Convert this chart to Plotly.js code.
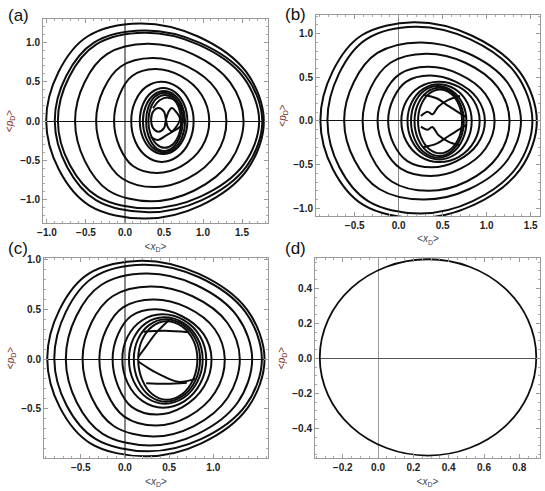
<!DOCTYPE html>
<html>
<head>
<meta charset="utf-8">
<script src="https://cdn.plot.ly/plotly-3.0.1.min.js"></script>
<style>
  html, body { margin: 0; padding: 0; background: #fff; }
  #chart { width: 545px; height: 491px; }
</style>
</head>
<body>
<div id="chart"></div>
<script>
// phase-space orbits <x_D>, <p_D>, four panels
// each orbit: 12 points clockwise from the left turning point, closed, orbits split by null

// (a)
const aX = [
  -1.01,-0.854,-0.482,0.19,0.937,1.557,1.78,1.566,0.969,0.25,-0.456,-0.846,-1.01,null,
  -0.90,-0.752,-0.398,0.24,0.954,1.547,1.76,1.556,0.986,0.30,-0.372,-0.744,-0.90,null,
  -0.86,-0.716,-0.372,0.25,0.941,1.514,1.72,1.521,0.967,0.30,-0.35,-0.709,-0.86,null,
  -0.64,-0.519,-0.231,0.29,0.868,1.348,1.52,1.353,0.889,0.33,-0.213,-0.514,-0.64,null,
  -0.37,-0.276,-0.053,0.35,0.797,1.167,1.30,1.171,0.812,0.38,-0.04,-0.273,-0.37,null,
  -0.14,-0.072,0.091,0.385,0.712,0.983,1.08,0.986,0.725,0.41,0.102,-0.069,-0.14,null,
  0.08,0.131,0.27,0.46,0.67,0.824,0.88,0.825,0.675,0.47,0.275,0.132,0.08,null,
  0.19,0.23,0.34,0.49,0.645,0.758,0.80,0.758,0.645,0.49,0.34,0.23,0.19,null,
  0.23,0.266,0.365,0.50,0.635,0.734,0.77,0.734,0.635,0.50,0.365,0.266,0.23,null,
  0.27,0.301,0.385,0.50,0.62,0.708,0.74,0.708,0.62,0.50,0.385,0.301,0.27,null,
  0.30,0.328,0.405,0.51,0.615,0.692,0.72,0.692,0.615,0.51,0.405,0.328,0.30];
const aY = [
  0,0.62,1.074,1.24,1.074,0.62,0,-0.62,-1.074,-1.24,-1.074,-0.62,0,null,
  0,0.575,0.996,1.15,0.996,0.575,0,-0.58,-1.005,-1.16,-1.005,-0.58,0,null,
  0,0.56,0.97,1.12,0.97,0.56,0,-0.555,-0.961,-1.11,-0.961,-0.555,0,null,
  0,0.49,0.849,0.98,0.849,0.49,0,-0.51,-0.883,-1.02,-0.883,-0.51,0,null,
  0,0.40,0.693,0.80,0.693,0.40,0,-0.42,-0.727,-0.84,-0.727,-0.42,0,null,
  0,0.33,0.572,0.66,0.572,0.33,0,-0.33,-0.572,-0.66,-0.572,-0.33,0,null,
  0,0.25,0.433,0.50,0.433,0.25,0,-0.26,-0.45,-0.52,-0.45,-0.26,0,null,
  0,0.21,0.364,0.42,0.364,0.21,0,-0.21,-0.364,-0.42,-0.364,-0.21,0,null,
  0,0.19,0.329,0.38,0.329,0.19,0,-0.20,-0.346,-0.40,-0.346,-0.20,0,null,
  0,0.18,0.312,0.36,0.312,0.18,0,-0.19,-0.329,-0.38,-0.329,-0.19,0,null,
  0,0.165,0.286,0.33,0.286,0.165,0,-0.17,-0.294,-0.34,-0.294,-0.17,0];
// (a) inner two lobes and crossing arcs
const aLobeX = [0.525,0.50,0.43,0.36,0.335,0.36,0.43,0.50,0.525,0.56,0.60,0.66,0.705,0.66,0.60,0.55,0.525];
const aLobeY = [0.015,0.12,0.165,0.12,0.015,-0.09,-0.135,-0.09,0.015,0.12,0.165,0.11,0.03,-0.07,-0.13,-0.08,0.015];
const aArcX = [0.36,0.449,0.556,0.662,0.748,0.726,0.62,0.534,0.42,0.33];
const aArcY = [0.161,0.267,0.297,0.246,0.118,-0.051,-0.13,-0.178,-0.24,-0.20];

// (b)
const bX = [
  -0.89,-0.752,-0.424,0.17,0.828,1.374,1.57,1.381,0.855,0.22,-0.402,-0.746,-0.89,null,
  -0.81,-0.68,-0.37,0.19,0.815,1.334,1.52,1.341,0.842,0.24,-0.348,-0.674,-0.81,null,
  -0.62,-0.508,-0.242,0.24,0.781,1.229,1.39,1.235,0.804,0.285,-0.222,-0.502,-0.62,null,
  -0.41,-0.316,-0.093,0.31,0.757,1.127,1.26,1.131,0.772,0.34,-0.08,-0.313,-0.41,null,
  -0.24,-0.166,0.011,0.33,0.687,0.984,1.09,0.988,0.703,0.36,0.024,-0.162,-0.24,null,
  -0.12,-0.059,0.087,0.35,0.646,0.892,0.98,0.895,0.659,0.375,0.098,-0.056,-0.12,null,
  0.03,0.086,0.24,0.45,0.685,0.857,0.92,0.858,0.69,0.46,0.245,0.088,0.03,null,
  0.10,0.147,0.275,0.45,0.64,0.779,0.83,0.78,0.645,0.46,0.28,0.148,0.10,null,
  0.14,0.18,0.29,0.44,0.605,0.726,0.77,0.727,0.61,0.45,0.295,0.182,0.14,null,
  0.18,0.218,0.32,0.46,0.60,0.702,0.74,0.702,0.60,0.46,0.32,0.218,0.18,null,
  0.22,0.253,0.345,0.47,0.595,0.687,0.72,0.687,0.595,0.47,0.345,0.253,0.22];
const bY = [
  0,0.565,0.979,1.13,0.979,0.565,0,-0.555,-0.961,-1.11,-0.961,-0.555,0,null,
  0,0.54,0.935,1.08,0.935,0.54,0,-0.53,-0.918,-1.06,-0.918,-0.53,0,null,
  0,0.45,0.779,0.90,0.779,0.45,0,-0.45,-0.779,-0.90,-0.779,-0.45,0,null,
  0,0.385,0.667,0.77,0.667,0.385,0,-0.40,-0.693,-0.80,-0.693,-0.40,0,null,
  0,0.31,0.537,0.62,0.537,0.31,0,-0.315,-0.546,-0.63,-0.546,-0.315,0,null,
  0,0.26,0.45,0.52,0.45,0.26,0,-0.265,-0.459,-0.53,-0.459,-0.265,0,null,
  0,0.225,0.39,0.45,0.39,0.225,0,-0.235,-0.407,-0.47,-0.407,-0.235,0,null,
  0,0.21,0.364,0.42,0.364,0.21,0,-0.22,-0.381,-0.44,-0.381,-0.22,0,null,
  0,0.20,0.346,0.40,0.346,0.20,0,-0.21,-0.364,-0.42,-0.364,-0.21,0,null,
  0,0.19,0.329,0.38,0.329,0.19,0,-0.20,-0.346,-0.40,-0.346,-0.20,0,null,
  0,0.18,0.312,0.36,0.312,0.18,0,-0.185,-0.32,-0.37,-0.32,-0.185,0];
// (b) inner wavy strokes
const bWaveAX = [0.253,0.329,0.382,0.45,0.564,0.697];
const bWaveAY = [0.057,0.107,0.076,0.164,0.241,0.286];
const bWaveBX = [0.28,0.431,0.564,0.697,0.772];
const bWaveBY = [0.298,0.26,0.172,0.088,0.042];
const bWaveCX = [0.253,0.329,0.382,0.45,0.564,0.697];
const bWaveCY = [-0.065,-0.10,-0.07,-0.16,-0.236,-0.28];
const bWaveDX = [0.28,0.431,0.564,0.697,0.772];
const bWaveDY = [-0.30,-0.26,-0.175,-0.09,-0.045];

// (c)
const cX = [
  -0.88,-0.742,-0.414,0.18,0.838,1.384,1.58,1.391,0.865,0.23,-0.392,-0.736,-0.88,null,
  -0.80,-0.669,-0.356,0.21,0.84,1.362,1.55,1.369,0.866,0.26,-0.334,-0.662,-0.80,null,
  -0.67,-0.552,-0.27,0.24,0.804,1.272,1.44,1.278,0.825,0.28,-0.252,-0.547,-0.67,null,
  -0.48,-0.38,-0.141,0.29,0.765,1.159,1.30,1.163,0.781,0.32,-0.128,-0.376,-0.48,null,
  -0.29,-0.211,-0.022,0.32,0.701,1.017,1.13,1.021,0.717,0.35,-0.008,-0.207,-0.29,null,
  -0.14,-0.078,0.071,0.34,0.641,0.89,0.98,0.893,0.651,0.36,0.08,-0.075,-0.14,null,
  -0.03,0.03,0.195,0.42,0.67,0.853,0.92,0.854,0.675,0.43,0.20,0.032,-0.03,null,
  0.045,0.098,0.242,0.44,0.66,0.821,0.88,0.822,0.665,0.45,0.247,0.099,0.045,null,
  0.10,0.148,0.28,0.46,0.655,0.798,0.85,0.798,0.655,0.46,0.28,0.148,0.10,null,
  0.15,0.193,0.31,0.47,0.645,0.773,0.82,0.773,0.645,0.47,0.31,0.193,0.15];
const cY = [
  0,0.495,0.857,0.99,0.857,0.495,0,-0.49,-0.849,-0.98,-0.849,-0.49,0,null,
  0,0.475,0.823,0.95,0.823,0.475,0,-0.465,-0.805,-0.93,-0.805,-0.465,0,null,
  0,0.43,0.745,0.86,0.745,0.43,0,-0.435,-0.753,-0.87,-0.753,-0.435,0,null,
  0,0.365,0.632,0.73,0.632,0.365,0,-0.39,-0.675,-0.78,-0.675,-0.39,0,null,
  0,0.30,0.52,0.60,0.52,0.30,0,-0.335,-0.58,-0.67,-0.58,-0.335,0,null,
  0,0.25,0.433,0.50,0.433,0.25,0,-0.28,-0.485,-0.56,-0.485,-0.28,0,null,
  0,0.225,0.39,0.45,0.39,0.225,0,-0.245,-0.424,-0.49,-0.424,-0.245,0,null,
  0,0.21,0.364,0.42,0.364,0.21,0,-0.225,-0.39,-0.45,-0.39,-0.225,0,null,
  0,0.20,0.346,0.40,0.346,0.20,0,-0.215,-0.372,-0.43,-0.372,-0.215,0,null,
  0,0.19,0.329,0.38,0.329,0.19,0,-0.205,-0.355,-0.41,-0.355,-0.205,0];
// (c) inner strokes
const cDiagUpX = [0.15,0.25,0.36,0.51];
const cDiagUpY = [0.02,0.14,0.27,0.40];
const cChordUpX = [0.21,0.45,0.72];
const cChordUpY = [0.275,0.285,0.27];
const cDiagLoX = [0.15,0.26,0.38,0.60,0.80];
const cDiagLoY = [-0.025,-0.09,-0.15,-0.23,-0.20];
const cChordLoX = [0.24,0.47,0.70];
const cChordLoY = [-0.245,-0.25,-0.24];

// (d) single closed orbit
const dX = [0.283,0.518,0.716,0.849,0.896,0.849,0.716,0.518,0.283,0.048,-0.150,-0.283,-0.330,-0.283,-0.150,0.048,0.283];
const dY = [0.566,0.523,0.402,0.220,0.005,-0.210,-0.392,-0.513,-0.556,-0.513,-0.392,-0.210,0.005,0.220,0.402,0.523,0.566];

// tick positions and labels
const ticksHalf = [-1.0, -0.5, 0, 0.5, 1.0];
const labelsHalf = ['\u22121.0', '\u22120.5', '0.0', '0.5', '1.0'];
const aXTicks = [-1.0, -0.5, 0, 0.5, 1.0, 1.5];
const aXLabels = ['\u22121.0', '\u22120.5', '0.0', '0.5', '1.0', '1.5'];
const bXTicks = [-0.5, 0, 0.5, 1.0, 1.5];
const bXLabels = ['\u22120.5', '0.0', '0.5', '1.0', '1.5'];
const cXTicks = [-0.5, 0, 0.5, 1.0];
const cXLabels = ['\u22120.5', '0.0', '0.5', '1.0'];
const dXTicks = [-0.2, 0, 0.2, 0.4, 0.6, 0.8];
const dXLabels = ['\u22120.2', '0.0', '0.2', '0.4', '0.6', '0.8'];
const dYTicks = [-0.4, -0.2, 0, 0.2, 0.4];
const dYLabels = ['\u22120.4', '\u22120.2', '0.0', '0.2', '0.4'];

const panelLabels = ['(a)', '(b)', '(c)', '(d)'];

function curve(x, y, ax, w) {
  return {x: x, y: y, xaxis: 'x' + ax, yaxis: 'y' + ax, type: 'scatter', mode: 'lines',
          connectgaps: false,
          line: {color: '#0d0d0d', width: w || 2, shape: 'spline', smoothing: 1}, hoverinfo: 'skip'};
}

const traces = [
  curve(aX, aY, ''), curve(aLobeX, aLobeY, ''), curve(aArcX, aArcY, ''),
  curve(bX, bY, '2'), curve(bWaveAX, bWaveAY, '2'), curve(bWaveBX, bWaveBY, '2'),
  curve(bWaveCX, bWaveCY, '2'), curve(bWaveDX, bWaveDY, '2'),
  curve(cX, cY, '3'), curve(cDiagUpX, cDiagUpY, '3'), curve(cChordUpX, cChordUpY, '3'),
  curve(cDiagLoX, cDiagLoY, '3'), curve(cChordLoX, cChordLoY, '3'),
  curve(dX, dY, '4', 1.8)
];

const FONT = 'Liberation Sans, Arial, sans-serif';
const xTitle = {text: '&lt;<i>x</i><sub>D</sub>&gt;', font: {family: FONT, size: 10, color: '#3d4452'}, standoff: 5};
const yTitle = {text: '&lt;<i>p</i><sub>D</sub>&gt;', font: {family: FONT, size: 10, color: '#7a2e22'}, standoff: 4};

function axis(domain, range, tickvals, labels, minorStep, isX, zeroColor, zeroWidth, anchor) {
  return {
    domain: domain, range: range, anchor: anchor,
    tickmode: 'array', tickvals: tickvals, ticktext: labels.map(t => '<b>' + t + '</b>'),
    showline: true, mirror: 'ticks', linecolor: '#9a9a9a', linewidth: 1,
    ticks: 'inside', ticklen: 4, tickcolor: '#9a9a9a', tickwidth: 1,
    minor: {ticks: 'inside', ticklen: 2, tickcolor: '#aaa', dtick: minorStep, showgrid: false},
    showgrid: false, zeroline: true, zerolinecolor: zeroColor, zerolinewidth: zeroWidth,
    tickfont: {family: FONT, size: 10, color: '#222'}, title: isX ? xTitle : yTitle, fixedrange: true
  };
}

const layout = {
  width: 545, height: 491, margin: {l: 0, r: 0, t: 0, b: 0},
  paper_bgcolor: '#fff', plot_bgcolor: '#fff', showlegend: false,
  xaxis:  axis([0.0789, 0.4917], [-1.051, 1.833], aXTicks, aXLabels, 0.1, true, '#888', 1.6, 'y'),
  yaxis:  axis([0.5458, 0.9613], [-1.296, 1.296], ticksHalf, labelsHalf, 0.1, false, '#111', 1, 'x'),
  xaxis2: axis([0.5798, 0.9908], [-0.94, 1.606], bXTicks, bXLabels, 0.1, true, '#888', 1.6, 'y2'),
  yaxis2: axis([0.5601, 0.9695], [-1.088, 1.214], ticksHalf, labelsHalf, 0.1, false, '#111', 1, 'x2'),
  xaxis3: axis([0.0807, 0.4917], [-0.917, 1.619], cXTicks, cXLabels, 0.1, true, '#888', 1.6, 'y3'),
  yaxis3: axis([0.0672, 0.4745], [-0.997, 1.017], ticksHalf, labelsHalf, 0.1, false, '#111', 1, 'x3'),
  xaxis4: axis([0.578, 0.9908], [-0.357, 0.917], dXTicks, dXLabels, 0.05, true, '#999', 1, 'y4'),
  yaxis4: axis([0.0672, 0.4745], [-0.570, 0.573], dYTicks, dYLabels, 0.05, false, '#555', 1, 'x4'),
  annotations: [
    [6, 4], [283, 3], [6, 237], [283, 237]
  ].map((p, i) => ({
    text: panelLabels[i], xref: 'paper', yref: 'paper', x: p[0] / 545, y: 1 - p[1] / 491,
    xanchor: 'left', yanchor: 'top', showarrow: false,
    font: {family: FONT, size: 17, color: '#111'}
  }))
};

Plotly.newPlot('chart', traces, layout, {staticPlot: true});
</script>
</body>
</html>
